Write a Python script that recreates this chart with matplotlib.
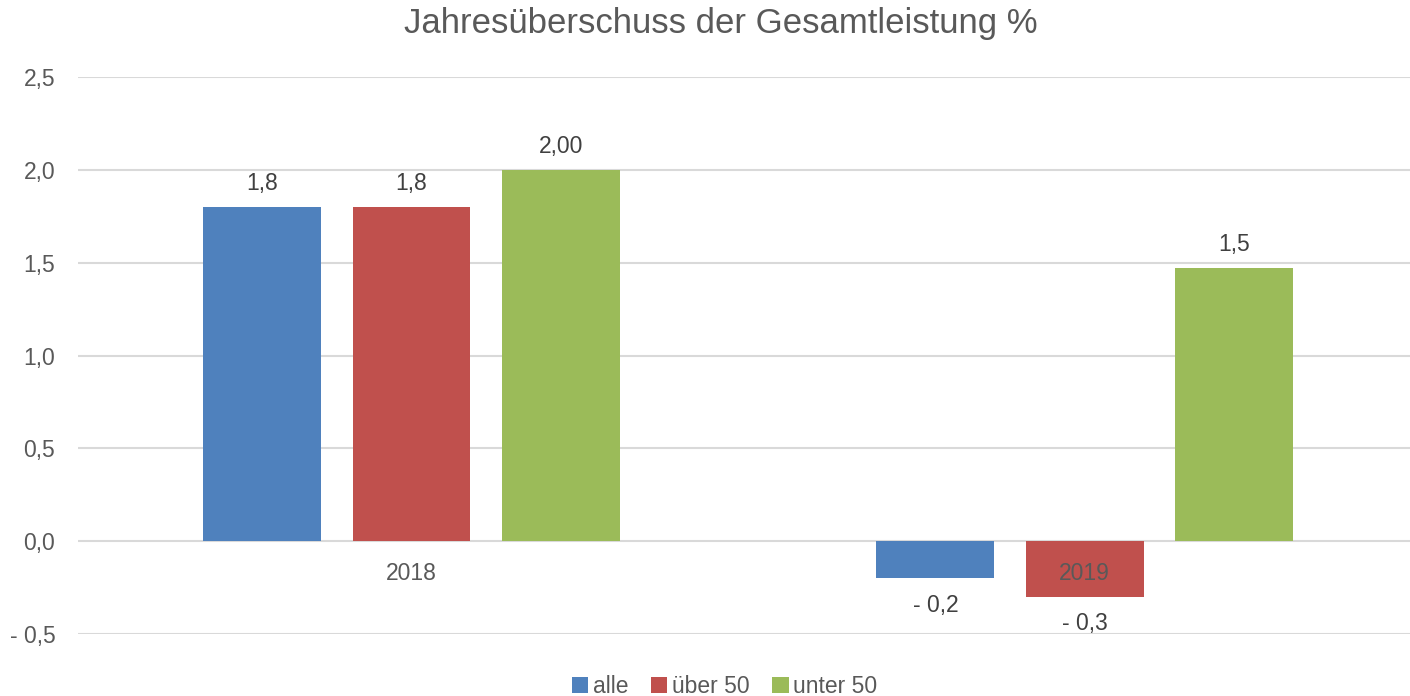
import matplotlib
matplotlib.use("Agg")
import matplotlib.pyplot as plt
import numpy as np
from matplotlib.patches import Patch

years = ["2018", "2019"]
series = ["alle", "über 50", "unter 50"]
alle = [1.8, -0.2]
ueber50 = [1.8, -0.3]
unter50 = [2.0, 1.47]
value_labels = [["1,8", "- 0,2"], ["1,8", "- 0,3"], ["2,00", "1,5"]]
yticks = [-0.5, 0.0, 0.5, 1.0, 1.5, 2.0, 2.5]
ytick_labels = ["- 0,5", "0,0", "0,5", "1,0", "1,5", "2,0", "2,5"]

COLORS = ["#4F81BD", "#C0504D", "#9BBB59"]
TXT = "#595959"
FS = 16.5

plt.rcParams["font.family"] = ["Liberation Sans", "DejaVu Sans"]

fig = plt.figure(figsize=(14.1, 6.96), dpi=100)
ax = fig.add_axes([0.055, 0.089, 0.945, 0.800])

x = np.arange(len(years))
step = 0.222
width = 0.175
for i, (vals, col) in enumerate(zip([alle, ueber50, unter50], COLORS)):
    xs = x + (i - 1) * step
    ax.bar(xs, vals, width=width, color=col, zorder=3)
    for xi, v, lab in zip(xs, vals, value_labels[i]):
        if v >= 0:
            ax.annotate(lab, (xi, v), xytext=(0, 9), textcoords="offset points",
                        ha="center", va="bottom", fontsize=FS, color="#404040")
        else:
            ax.annotate(lab, (xi, v), xytext=(0, -11), textcoords="offset points",
                        ha="center", va="top", fontsize=FS, color="#404040")

# category labels sit just under the zero line (Excel style)
for xi, yr in zip(x, years):
    ax.annotate(yr, (xi, 0), xytext=(0, -15), textcoords="offset points",
                ha="center", va="top", fontsize=FS, color=TXT, zorder=5)

ax.set_xlim(-0.496, 1.483)
ax.set_ylim(-0.5, 2.5)
ax.set_yticks(yticks)
ax.set_yticklabels(ytick_labels, fontsize=FS, color=TXT)
ax.set_xticks([])
ax.tick_params(axis="y", length=0, pad=16)
ax.grid(axis="y", color="#D9D9D9", linewidth=1.5, zorder=0)
for s in ax.spines.values():
    s.set_visible(False)

fig.suptitle("Jahresüberschuss der Gesamtleistung %", fontsize=25, color=TXT,
             x=0.511, y=0.99)

handles = [Patch(facecolor=c, label=n) for c, n in zip(COLORS, series)]
fig.legend(handles=handles, loc="lower center", bbox_to_anchor=(0.514, -0.032), ncol=3,
           frameon=False, fontsize=FS, labelcolor=TXT, handlelength=0.7, handleheight=0.7,
           handletextpad=0.2, columnspacing=1.0)

fig.savefig("out.png", dpi=100)
